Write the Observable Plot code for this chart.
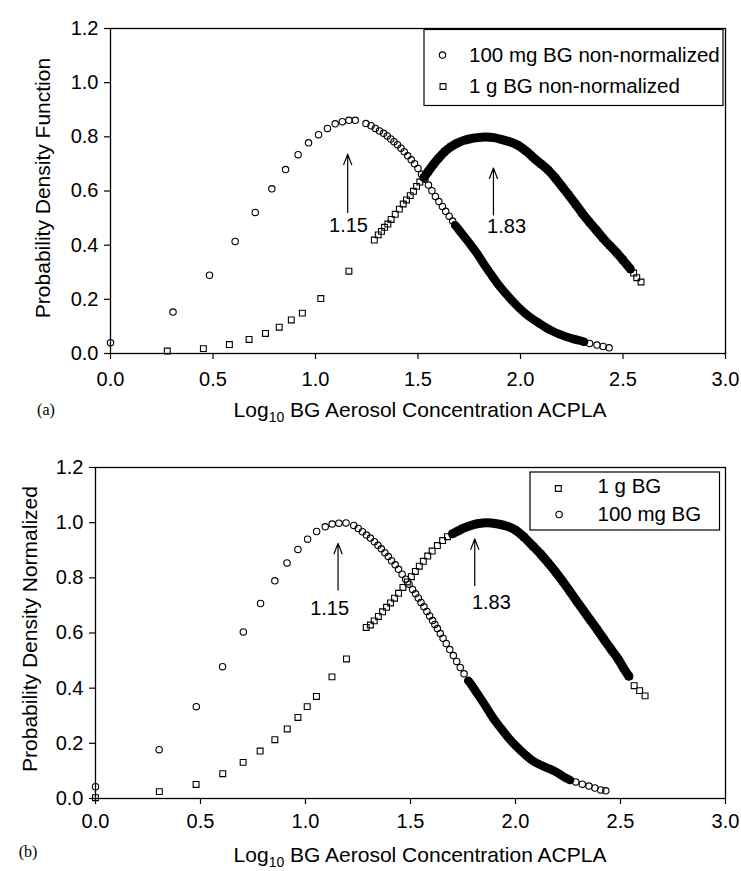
<!DOCTYPE html>
<html><head><meta charset="utf-8">
<script src="https://cdn.jsdelivr.net/npm/d3@7"></script>
<script src="https://cdn.jsdelivr.net/npm/@observablehq/plot@0.6"></script>
<style>
html,body{margin:0;padding:0;background:#fff;}
#chart svg{display:block;}
</style></head><body><div id="chart"></div>
<script>
// ---------- data ----------
const xTicks = [0, 0.5, 1.0, 1.5, 2.0, 2.5, 3.0];
const yTicks = [0, 0.2, 0.4, 0.6, 0.8, 1.0, 1.2];

// (a) 100 mg BG non-normalized  [log10 ACPLA, PDF]
const topMg = [[0.000,0.040],[0.305,0.153],[0.483,0.289],[0.608,0.414],[0.706,0.521],[0.787,0.608],[0.854,0.679],[0.915,0.734],[0.966,0.778],[1.015,0.808],[1.058,0.831],[1.096,0.848],[1.131,0.856],[1.163,0.861],[1.194,0.861],[1.246,0.849],[1.271,0.841],[1.292,0.831],[1.312,0.822],[1.332,0.813],[1.350,0.803],[1.367,0.792],[1.383,0.782],[1.400,0.771],[1.417,0.758],[1.433,0.745],[1.450,0.730],[1.467,0.715],[1.483,0.701],[1.500,0.683],[1.517,0.662],[1.534,0.643],[1.551,0.622],[1.568,0.601],[1.585,0.580],[1.602,0.561],[1.619,0.543],[1.635,0.525],[1.652,0.507],[1.669,0.489],[1.681,0.474],[1.700,0.456],[1.730,0.427],[1.760,0.398],[1.790,0.367],[1.824,0.327],[1.860,0.288],[1.892,0.254],[1.925,0.224],[1.959,0.195],[1.990,0.171],[2.025,0.147],[2.060,0.127],[2.092,0.111],[2.125,0.095],[2.157,0.082],[2.190,0.071],[2.223,0.062],[2.256,0.054],[2.289,0.048],[2.310,0.043],[2.337,0.037],[2.373,0.031],[2.403,0.026],[2.432,0.021]];
// (a) 1 g BG non-normalized
const topG = [[0.277,0.009],[0.453,0.018],[0.580,0.033],[0.676,0.052],[0.756,0.074],[0.823,0.097],[0.882,0.124],[0.936,0.149],[1.026,0.203],[1.163,0.304],[1.287,0.419],[1.306,0.438],[1.322,0.451],[1.337,0.466],[1.353,0.478],[1.369,0.495],[1.389,0.514],[1.409,0.533],[1.428,0.552],[1.444,0.567],[1.462,0.583],[1.478,0.599],[1.493,0.617],[1.509,0.633],[1.529,0.650],[1.550,0.672],[1.575,0.698],[1.599,0.720],[1.630,0.745],[1.660,0.763],[1.690,0.776],[1.720,0.786],[1.750,0.792],[1.790,0.797],[1.830,0.799],[1.870,0.797],[1.910,0.790],[1.950,0.781],[1.985,0.770],[2.030,0.746],[2.068,0.720],[2.100,0.700],[2.134,0.678],[2.170,0.648],[2.201,0.618],[2.235,0.585],[2.268,0.552],[2.300,0.519],[2.335,0.486],[2.370,0.455],[2.402,0.426],[2.435,0.399],[2.469,0.372],[2.500,0.345],[2.536,0.312],[2.552,0.297],[2.567,0.280],[2.588,0.264]];
// (b) 1 g BG normalized
const botG = [[0.000,0.003],[0.304,0.025],[0.479,0.051],[0.606,0.090],[0.703,0.131],[0.784,0.172],[0.854,0.213],[0.913,0.252],[0.964,0.294],[1.008,0.333],[1.052,0.370],[1.126,0.441],[1.195,0.506],[1.289,0.620],[1.309,0.629],[1.327,0.644],[1.347,0.660],[1.367,0.677],[1.386,0.693],[1.405,0.709],[1.424,0.726],[1.443,0.744],[1.464,0.765],[1.485,0.785],[1.504,0.804],[1.523,0.823],[1.542,0.842],[1.561,0.860],[1.582,0.879],[1.603,0.897],[1.628,0.917],[1.653,0.935],[1.676,0.949],[1.700,0.960],[1.724,0.969],[1.750,0.979],[1.780,0.988],[1.818,0.996],[1.865,1.000],[1.910,0.996],[1.961,0.987],[2.000,0.973],[2.040,0.948],[2.084,0.914],[2.120,0.886],[2.157,0.853],[2.190,0.822],[2.224,0.788],[2.257,0.753],[2.290,0.717],[2.323,0.682],[2.357,0.646],[2.390,0.611],[2.423,0.575],[2.456,0.540],[2.490,0.504],[2.515,0.472],[2.540,0.443],[2.565,0.409],[2.591,0.391],[2.617,0.372]];
// (b) 100 mg BG normalized
const botMg = [[0.000,0.043],[0.303,0.177],[0.480,0.333],[0.605,0.478],[0.704,0.604],[0.786,0.707],[0.854,0.789],[0.912,0.854],[0.964,0.903],[1.010,0.940],[1.053,0.968],[1.094,0.985],[1.127,0.995],[1.159,0.998],[1.193,0.999],[1.230,0.990],[1.251,0.979],[1.271,0.967],[1.290,0.955],[1.309,0.944],[1.328,0.931],[1.345,0.918],[1.361,0.905],[1.378,0.891],[1.394,0.877],[1.410,0.862],[1.427,0.847],[1.443,0.831],[1.460,0.813],[1.477,0.795],[1.493,0.777],[1.510,0.758],[1.524,0.742],[1.537,0.727],[1.550,0.711],[1.564,0.695],[1.578,0.678],[1.591,0.662],[1.605,0.645],[1.616,0.631],[1.628,0.616],[1.642,0.598],[1.655,0.581],[1.670,0.562],[1.687,0.540],[1.704,0.518],[1.720,0.497],[1.737,0.475],[1.755,0.452],[1.775,0.427],[1.794,0.408],[1.820,0.378],[1.845,0.350],[1.870,0.320],[1.895,0.290],[1.930,0.255],[1.961,0.225],[2.000,0.192],[2.043,0.161],[2.080,0.138],[2.124,0.120],[2.160,0.108],[2.189,0.098],[2.215,0.086],[2.238,0.075],[2.260,0.067],[2.287,0.060],[2.318,0.052],[2.350,0.045],[2.378,0.038],[2.406,0.031],[2.430,0.028]];

// x-ranges where the markers overlap into a solid band
const topMgBand = [1.681, 2.310];
const topGBand  = [1.529, 2.536];
const botMgBand = [1.775, 2.260];
const botGBand  = [1.700, 2.540];

// peak annotations (data units)
const noteText   = ["1.15", "1.83"];
const topArrowX  = [1.157, 1.868];
const topArrowY1 = [0.521, 0.512];
const topArrowY2 = [0.736, 0.685];
const topNoteX   = [1.161, 1.932];
const topNoteY   = [0.473, 0.467];
const botArrowX  = [1.155, 1.806];
const botArrowY1 = [0.756, 0.772];
const botArrowY2 = [0.925, 0.941];
const botNoteX   = [1.115, 1.885];
const botNoteY   = [0.689, 0.711];

const topLegend = ["100 mg BG non-normalized", "1 g BG non-normalized"];
const botLegend = ["1 g BG", "100 mg BG"];
const yTitles = ["Probability Density Function", "Probability Density Normalized"];

// ---------- drawing ----------
const FONT = "'Liberation Sans', Arial, Helvetica, sans-serif";
const toObjs = a => a.map(([x, y]) => ({x, y}));
const within = b => d => d.x >= b[0] && d.x <= b[1];

function panel(c) {
  const mg = toObjs(c.mg), g = toObjs(c.g);
  const arrows = c.ax.map((x, i) => ({x, y1: c.ay1[i], y2: c.ay2[i]}));
  const notes = noteText.map((t, i) => ({t, x: c.nx[i], y: c.ny[i]}));
  const svgNode = Plot.plot({
    width: 741, height: c.height,
    marginTop: c.mt, marginBottom: c.mb, marginLeft: c.ml, marginRight: c.mr,
    x: {domain: [0, 3]},
    y: {domain: [0, 1.2]},
    style: {fontFamily: FONT, fontSize: "20px", color: "black", background: "white", overflow: "visible"},
    marks: [
      Plot.frame({stroke: "black", strokeWidth: 1.3}),
      Plot.axisX({ticks: xTicks, tickFormat: d3.format(".1f"), tickSize: 6, tickPadding: c.xPad, label: null, strokeWidth: 1.2}),
      Plot.axisY({ticks: yTicks, tickFormat: d3.format(".1f"), tickSize: 6, tickPadding: 6, label: null, strokeWidth: 1.2}),
      Plot.line(g.filter(within(c.gBand)), {x: "x", y: "y", stroke: "black", strokeWidth: 9, strokeLinecap: "round", strokeLinejoin: "round", curve: "catmull-rom"}),
      Plot.line(mg.filter(within(c.mgBand)), {x: "x", y: "y", stroke: "black", strokeWidth: 8.5, strokeLinecap: "round", strokeLinejoin: "round", curve: "catmull-rom"}),
      Plot.dot(g, {x: "x", y: "y", symbol: "square", r: 3.3, stroke: "black", strokeWidth: 1.1, fill: "none"}),
      Plot.dot(mg, {x: "x", y: "y", symbol: "circle", r: 3.2, stroke: "black", strokeWidth: 1.1, fill: "none"}),
      Plot.arrow(arrows, {x1: "x", x2: "x", y1: "y1", y2: "y2", stroke: "black", strokeWidth: 1.2, headLength: 14, headAngle: 42}),
      Plot.text(notes, {x: "x", y: "y", text: "t", fontSize: 20, textAnchor: "middle", lineAnchor: "middle", fill: "black"})
    ]
  });
  const svg = d3.select(svgNode);
  // y title
  svg.append("text")
    .attr("transform", `translate(${c.ytx},${c.yty}) rotate(-90)`)
    .attr("text-anchor", "middle").attr("dy", "0.35em")
    .attr("font-family", FONT).attr("font-size", 21).attr("fill", "black")
    .text(c.yTitle);
  // x title with subscript
  const t = svg.append("text")
    .attr("x", c.xtx).attr("y", c.xty).attr("text-anchor", "middle")
    .attr("font-family", FONT).attr("font-size", 21).attr("fill", "black");
  t.append("tspan").text("Log");
  t.append("tspan").attr("font-size", 14).attr("dy", 5).text("10");
  t.append("tspan").attr("dy", -5).text(" BG Aerosol Concentration ACPLA");
  // panel letter
  svg.append("text").attr("x", c.lx).attr("y", c.ly).attr("text-anchor", "middle")
    .attr("font-family", "'Liberation Serif', 'Times New Roman', serif").attr("font-size", 16)
    .attr("fill", "black").text(c.letter);
  // legend
  const L = c.legend;
  const lg = svg.append("g").attr("text-anchor", "start");
  lg.append("rect").attr("x", L.x).attr("y", L.y).attr("width", L.w).attr("height", L.h)
    .attr("fill", "white").attr("stroke", "black").attr("stroke-width", 1.2);
  L.items.forEach((it, i) => {
    const type = it.sym === "square" ? d3.symbolSquare : d3.symbolCircle;
    const r = it.sym === "square" ? 3.3 : 3.2;
    lg.append("path").attr("d", d3.symbol(type, Math.PI * r * r)())
      .attr("transform", `translate(${it.mx},${it.my})`)
      .attr("fill", "none").attr("stroke", "black").attr("stroke-width", 1.1);
    lg.append("text").attr("x", L.tx).attr("y", it.ty).attr("text-anchor", "start")
      .attr("font-family", FONT).attr("font-size", 20.5).attr("fill", "black")
      .text(it.label);
  });
  return svgNode;
}

const chart = document.getElementById("chart");
chart.append(panel({
  mg: topMg, g: topG, mgBand: topMgBand, gBand: topGBand,
  ax: topArrowX, ay1: topArrowY1, ay2: topArrowY2, nx: topNoteX, ny: topNoteY,
  height: 428, mt: 28, mb: 75, ml: 110, mr: 16, xPad: 12,
  yTitle: yTitles[0], ytx: 43, yty: 188, xtx: 420, xty: 416.5,
  letter: "(a)", lx: 46, ly: 415,
  legend: {x: 424, y: 29.5, w: 299, h: 76, tx: 469,
    items: [{sym: "circle", mx: 442.5, my: 55.1, ty: 61.7, label: topLegend[0]},
            {sym: "square", mx: 443, my: 86.5, ty: 93.4, label: topLegend[1]}]}
}));
chart.append(panel({
  mg: botMg, g: botG, mgBand: botMgBand, gBand: botGBand,
  ax: botArrowX, ay1: botArrowY1, ay2: botArrowY2, nx: botNoteX, ny: botNoteY,
  height: 443, mt: 39, mb: 73, ml: 95, mr: 16, xPad: 9,
  yTitle: yTitles[1], ytx: 29.5, yty: 201, xtx: 420, xty: 434,
  letter: "(b)", lx: 28, ly: 429,
  legend: {x: 530, y: 44, w: 189.5, h: 58, tx: 597.5,
    items: [{sym: "square", mx: 558.3, my: 60.5, ty: 65.3, label: botLegend[0]},
            {sym: "circle", mx: 559.1, my: 86.5, ty: 92.7, label: botLegend[1]}]}
}));
</script></body></html>
